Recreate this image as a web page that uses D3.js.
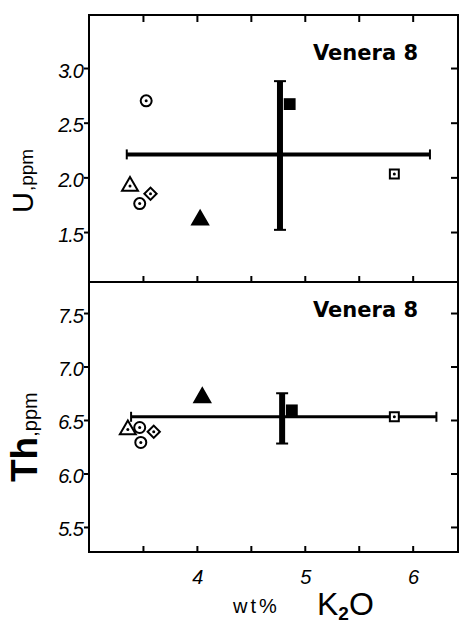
<!DOCTYPE html>
<html>
<head>
<meta charset="utf-8">
<script src="https://cdn.jsdelivr.net/npm/d3@7"></script>
<style>
  body { margin: 0; background: #fff; }
  svg { display: block; }
  .tick text { font-family: "Liberation Sans", Arial, sans-serif; font-style: italic; font-size: 20px; letter-spacing: -1px; fill: #000; }
  .tick line { stroke: #000; stroke-width: 2; }
</style>
</head>
<body>
<svg id="chart" width="460" height="624"></svg>
<script>
// K2O (wt%) against U (ppm), top panel
var k2oU = [3.53, 3.38, 3.47, 3.57, 4.03, 5.83, 4.86];
var uValues = [2.70, 1.92, 1.76, 1.85, 1.61, 2.03, 2.67];
var markersU = ["circle", "triangle", "circle", "diamond", "triangleFilled", "square", "squareFilled"];
// mean with spread, top panel
var uMean = [4.77, 2.21];
var uRangeX = [3.35, 6.16];
var uRangeY = [1.52, 2.88];

// K2O (wt%) against Th (ppm), bottom panel
var k2oTh = [3.47, 3.36, 3.48, 3.60, 4.05, 5.83, 4.88];
var thValues = [6.43, 6.41, 6.29, 6.39, 6.71, 6.53, 6.59];
var markersTh = ["circle", "triangle", "circle", "diamond", "triangleFilled", "square", "squareFilled"];
var thMean = [4.79, 6.53];
var thRangeX = [3.39, 6.22];
var thRangeY = [6.28, 6.75];

var xTicks = [4, 5, 6];
var xMinorTicks = [3.5, 4, 4.5, 5, 5.5, 6];
var uTicks = [1.5, 2.0, 2.5, 3.0];
var thTicks = [5.5, 6.0, 6.5, 7.0, 7.5];

var svg = d3.select("#chart");
var left = 89, right = 458;

var x = d3.scaleLinear().domain([3, 6.42]).range([left, right]);
var yU = d3.scaleLinear().domain([1.043, 3.485]).range([282, 15]);
var yTh = d3.scaleLinear().domain([5.266, 7.79]).range([552, 282]);

//draws one panel: frame, ticks, points, error cross
const drawPanel = function(y, xs, ys, markers, mean, rangeX, rangeY, yTickValues, topTicks, labelY) {
  var top = y.range()[1], bottom = y.range()[0];
  var g = svg.append("g");

  // left ticks with labels
  g.append("g")
    .attr("transform", "translate(" + left + ",0)")
    .call(d3.axisLeft(y).tickValues(yTickValues).tickSize(5).tickPadding(1).tickFormat(d3.format(".1f")))
    .call(a => a.select(".domain").remove())
    .selectAll("text").attr("dy", "0.45em");

  // right ticks, pointing in
  g.append("g")
    .attr("transform", "translate(" + right + ",0)")
    .call(d3.axisLeft(y).tickValues(yTickValues).tickSize(7).tickFormat(""))
    .call(a => a.select(".domain").remove());

  // bottom ticks pointing up
  g.append("g")
    .attr("transform", "translate(0," + bottom + ")")
    .call(d3.axisTop(x).tickValues(xMinorTicks).tickSize(6).tickFormat(""))
    .call(a => a.select(".domain").remove());

  if (topTicks) {
    g.append("g")
      .attr("transform", "translate(0," + top + ")")
      .call(d3.axisBottom(x).tickValues(xMinorTicks).tickSize(7).tickFormat(""))
      .call(a => a.select(".domain").remove());
  }

  // frame
  g.append("rect")
    .attr("x", left).attr("y", top)
    .attr("width", right - left).attr("height", bottom - top)
    .attr("fill", "none").attr("stroke", "#000").attr("stroke-width", 2);

  // error cross
  var hw = y === yU ? 4 : 3;
  g.append("line")
    .attr("x1", x(rangeX[0])).attr("x2", x(rangeX[1]))
    .attr("y1", y(mean[1])).attr("y2", y(mean[1]))
    .attr("stroke", "#000").attr("stroke-width", hw);
  g.append("line")
    .attr("x1", x(mean[0])).attr("x2", x(mean[0]))
    .attr("y1", y(rangeY[0])).attr("y2", y(rangeY[1]))
    .attr("stroke", "#000").attr("stroke-width", 6);
  rangeX.forEach(v => {
    g.append("line")
      .attr("x1", x(v)).attr("x2", x(v))
      .attr("y1", y(mean[1]) - 5).attr("y2", y(mean[1]) + 5)
      .attr("stroke", "#000").attr("stroke-width", 2);
  });
  rangeY.forEach(v => {
    g.append("line")
      .attr("x1", x(mean[0]) - 6).attr("x2", x(mean[0]) + 6)
      .attr("y1", y(v)).attr("y2", y(v))
      .attr("stroke", "#000").attr("stroke-width", 2);
  });

  // points
  xs.forEach((xv, i) => {
    var px = x(xv), py = y(ys[i]), m = markers[i];
    var p = g.append("g").attr("transform", "translate(" + px + "," + py + ")");
    if (m == "circle") {
      p.append("circle").attr("r", 5.5).attr("fill", "#fff").attr("stroke", "#000").attr("stroke-width", 2);
    } else if (m == "triangle" || m == "triangleFilled") {
      p.append("path").attr("d", d3.symbol().type(d3.symbolTriangle).size(110))
        .attr("fill", m == "triangle" ? "#fff" : "#000").attr("stroke", "#000").attr("stroke-width", 2);
    } else if (m == "diamond") {
      p.append("path").attr("d", d3.symbol().type(d3.symbolSquare).size(75))
        .attr("transform", "rotate(45)")
        .attr("fill", "#fff").attr("stroke", "#000").attr("stroke-width", 2);
    } else if (m == "square") {
      p.append("path").attr("d", d3.symbol().type(d3.symbolSquare).size(80))
        .attr("fill", "#fff").attr("stroke", "#000").attr("stroke-width", 2);
    } else if (m == "squareFilled") {
      p.append("path").attr("d", d3.symbol().type(d3.symbolSquare).size(140))
        .attr("fill", "#000");
    }
    if (m == "circle" || m == "triangle" || m == "diamond" || m == "square") {
      p.append("circle").attr("r", 1.5).attr("fill", "#000");
    }
  });

  // panel label
  g.append("text")
    .attr("x", 313).attr("y", labelY)
    .attr("font-family", "DejaVu Sans, sans-serif").attr("font-weight", "bold")
    .attr("font-size", 21)
    .text("Venera 8");
}

drawPanel(yU, k2oU, uValues, markersU, uMean, uRangeX, uRangeY, uTicks, true, 60);
drawPanel(yTh, k2oTh, thValues, markersTh, thMean, thRangeX, thRangeY, thTicks, false, 317);

// x tick labels
svg.append("g")
  .attr("transform", "translate(0,552)")
  .call(d3.axisBottom(x).tickValues(xTicks).tickSize(0).tickPadding(18).tickFormat(d3.format("d")))
  .call(a => a.select(".domain").remove());

// axis titles
var uTitle = svg.append("text")
  .attr("transform", "translate(33,213) rotate(-90)")
  .attr("font-family", "Liberation Sans, Arial, sans-serif");
uTitle.append("tspan").attr("font-size", 29).text("U");
uTitle.append("tspan").attr("font-size", 19).attr("dx", 1).text(",ppm");

var thTitle = svg.append("text")
  .attr("transform", "translate(37,482) rotate(-90)")
  .attr("font-family", "Liberation Sans, Arial, sans-serif");
thTitle.append("tspan").attr("font-size", 37).attr("font-weight", "bold").text("Th");
thTitle.append("tspan").attr("font-size", 20).text(",ppm");

svg.append("text")
  .attr("x", 233).attr("y", 613)
  .attr("font-family", "Liberation Sans, Arial, sans-serif")
  .attr("font-size", 20).attr("letter-spacing", 3)
  .text("wt%");

var kTitle = svg.append("text")
  .attr("x", 317).attr("y", 615)
  .attr("font-family", "Liberation Sans, Arial, sans-serif")
  .attr("font-size", 32);
kTitle.append("tspan").text("K");
kTitle.append("tspan").attr("font-size", 19).attr("dy", 5).attr("font-weight", "bold").text("2");
kTitle.append("tspan").attr("dy", -5).text("O");
</script>
</body>
</html>
